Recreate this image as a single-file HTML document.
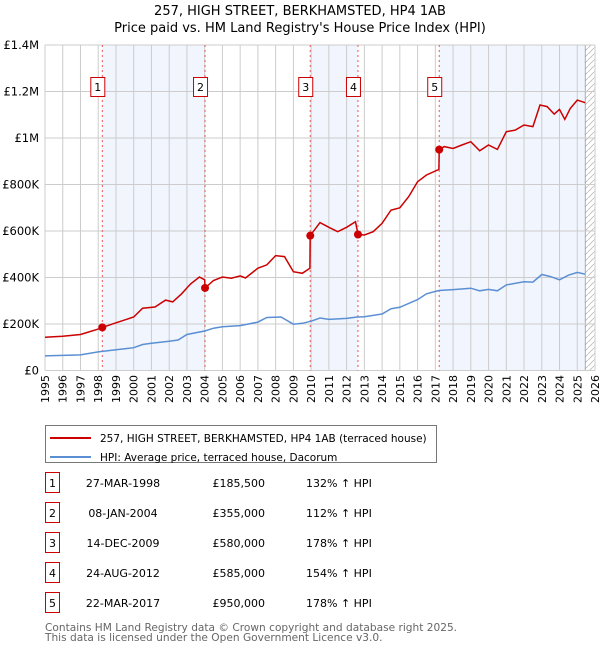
<!DOCTYPE html>
<html><head><meta charset="utf-8"><style>
body{margin:0;background:#fff;font-family:"Liberation Sans","DejaVu Sans",sans-serif;}
svg text{font-family:"DejaVu Sans","Liberation Sans",sans-serif;}
</style></head><body>
<svg id="c" width="600" height="650" xmlns="http://www.w3.org/2000/svg">
<text x="300" y="15" text-anchor="middle" font-size="13">257, HIGH STREET, BERKHAMSTED, HP4 1AB</text>
<text x="300" y="32" text-anchor="middle" font-size="13">Price paid vs. HM Land Registry's House Price Index (HPI)</text>
<g id="plot"></g>
<g>
<rect x="45.5" y="425.5" width="391" height="37" fill="#fff" stroke="#777"/>
<line x1="50" y1="438" x2="91" y2="438" stroke="#cc0000" stroke-width="2"/>
<text x="100" y="442" font-size="10.5">257, HIGH STREET, BERKHAMSTED, HP4 1AB (terraced house)</text>
<line x1="50" y1="457" x2="91" y2="457" stroke="#5b8fd4" stroke-width="2"/>
<text x="100" y="461" font-size="10.5">HPI: Average price, terraced house, Dacorum</text>
</g>
<g id="table"></g>
<text x="45" y="631" font-size="10.6" fill="#666">Contains HM Land Registry data © Crown copyright and database right 2025.</text>
<text x="45" y="641" font-size="10.6" fill="#666">This data is licensed under the Open Government Licence v3.0.</text>
</svg>
<script>
const hpiYears=[1995,1996,1997,1998,1999,2000,2000.5,2001,2002,2002.5,2003,2004,2004.5,2005,2006,2007,2007.5,2008.3,2009,2009.5,2010,2010.5,2011,2012,2012.6,2013,2014,2014.5,2015,2016,2016.5,2017.2,2018,2019,2019.5,2020,2020.5,2021,2022,2022.5,2023,2023.5,2024,2024.5,2025,2025.45];
const hpiValues=[63,65,67,80,89,98,112,117,126,131,155,170,182,188,193,208,228,230,199,203,212,226,220,224,230,231,243,266,272,305,330,344,348,354,343,349,343,368,382,380,413,404,390,410,422,414];
const redYears=[1995,1996,1997,1998,1998.23,1999,2000,2000.5,2001.2,2001.8,2002.2,2002.7,2003.2,2003.7,2004.0,2004.02,2004.5,2005,2005.5,2006,2006.3,2007,2007.5,2008,2008.5,2009,2009.5,2009.93,2009.95,2010.5,2011,2011.5,2012,2012.5,2012.64,2013,2013.5,2014,2014.5,2015,2015.5,2016,2016.5,2017.2,2017.22,2017.5,2018,2018.5,2019,2019.5,2020,2020.5,2021,2021.5,2022,2022.5,2022.9,2023.3,2023.7,2024,2024.3,2024.6,2025,2025.45];
const redValues=[143,147,155,178,185.5,205,230,268,273,303,295,330,372,402,390,355,387,402,397,407,398,440,454,494,490,425,418,440,580,636,616,597,616,640,585,583,597,633,690,700,748,812,841,865,950,963,955,970,984,945,970,951,1027,1034,1056,1049,1142,1135,1103,1123,1080,1127,1163,1152];
const saleLabels=["1","2","3","4","5"];
const saleYears=[1998.23,2004.02,2009.95,2012.64,2017.22];
const saleValues=[185.5,355,580,585,950];
const saleDates=["27-MAR-1998","08-JAN-2004","14-DEC-2009","24-AUG-2012","22-MAR-2017"];
const salePrices=["£185,500","£355,000","£580,000","£585,000","£950,000"];
const saleHpi=["132% ↑ HPI","112% ↑ HPI","178% ↑ HPI","154% ↑ HPI","178% ↑ HPI"];
const yTicks=[0,200,400,600,800,1000,1200,1400];
const yTickLabels=["£0","£200K","£400K","£600K","£800K","£1M","£1.2M","£1.4M"];
const xTicks=[];for(let y=1995;y<=2026;y++)xTicks.push(y);

const NS="http://www.w3.org/2000/svg";
const X0=45,X1=595,Y0=370.5,Y1=45;
const xs=v=>X0+(v-1995)/31*(X1-X0);
const ys=v=>Y0-v/1400*(Y0-Y1);
const plot=document.getElementById('plot');
function mk(tag,at,par){const e=document.createElementNS(NS,tag);for(const k in at)e.setAttribute(k,at[k]);(par||plot).appendChild(e);return e;}

const shadeStart=[saleYears[0],saleYears[2],saleYears[4]];
const shadeEnd=[saleYears[1],saleYears[3],2025.45];
for(let i=0;i<shadeStart.length;i++){
 const r=mk('rect',{x:xs(shadeStart[i]),y:Y1,width:xs(shadeEnd[i])-xs(shadeStart[i]),height:Y0-Y1,fill:'#eef3fc',opacity:0.8});
 
 
}
const defs=mk('defs',{});
const pat=mk('pattern',{id:'h',width:6,height:6,patternUnits:'userSpaceOnUse'},defs);
mk('path',{d:'M0,6 L6,0',stroke:'#bbb','stroke-width':0.8},pat);
const hr=mk('rect',{x:xs(2025.45),y:Y1,width:X1-xs(2025.45),height:Y0-Y1,fill:'url(#h)'});


mk('line',{x1:xs(2025.45),y1:Y1,x2:xs(2025.45),y2:Y0,stroke:'#999','stroke-width':0.8});
xTicks.forEach(t=>{
 mk('line',{x1:xs(t),y1:Y1,x2:xs(t),y2:Y0,stroke:'#ccc','stroke-width':1});
 const tx=mk('text',{x:0,y:0,transform:`translate(${xs(t)+4},375) rotate(-90)`,'text-anchor':'end','font-size':11});
 tx.textContent=t;
 
 
});
yTicks.forEach((t,i)=>{
 mk('line',{x1:X0,y1:ys(t),x2:X1,y2:ys(t),stroke:'#ccc','stroke-width':1});
 const tx=mk('text',{x:39,y:ys(t)+4,'text-anchor':'end','font-size':11.5});
 tx.textContent=yTickLabels[i];
 
 
});
saleYears.forEach((s,i)=>{
 const l=mk('line',{x1:xs(s),y1:Y1,x2:xs(s),y2:Y0,stroke:'#e55','stroke-width':1,'stroke-dasharray':'2,3'});
 
 
});
const hp=mk('path',{d:hpiYears.map((y,i)=>(i?'L':'M')+xs(y).toFixed(1)+','+ys(hpiValues[i]).toFixed(1)).join(''),fill:'none',stroke:'#5b8fd4','stroke-width':1.5});


const rp=mk('path',{d:redYears.map((y,i)=>(i?'L':'M')+xs(y).toFixed(1)+','+ys(redValues[i]).toFixed(1)).join(''),fill:'none',stroke:'#cc0000','stroke-width':1.5});


saleYears.forEach((s,i)=>{
 const c=mk('circle',{cx:xs(s),cy:ys(saleValues[i]),r:4,fill:'#cc0000'});
 
 
 const g=mk('g',{});
 
 
 mk('rect',{x:xs(s)-11.5,y:77.5,width:14,height:19,fill:'#fff',stroke:'#cc0000'},g);
 const t=mk('text',{x:xs(s)-4.5,y:91,'text-anchor':'middle','font-size':11},g);t.textContent=saleLabels[i];
});
const tb=document.getElementById('table');
saleLabels.forEach((l,i)=>{
 const y=483+i*30;
 const g=mk('g',{},tb);
 
 
 mk('rect',{x:45.5,y:y-10.5,width:14,height:20,fill:'#fff',stroke:'#cc0000'},g);
 let t=mk('text',{x:52.5,y:y+4,'text-anchor':'middle','font-size':11},g);t.textContent=l;
 t=mk('text',{x:123,y:y+4,'text-anchor':'middle','font-size':11},g);t.textContent=saleDates[i];
 t=mk('text',{x:265,y:y+4,'text-anchor':'end','font-size':11},g);t.textContent=salePrices[i];
 t=mk('text',{x:306,y:y+4,'font-size':11},g);t.textContent=saleHpi[i];
});
</script>
</body></html>
